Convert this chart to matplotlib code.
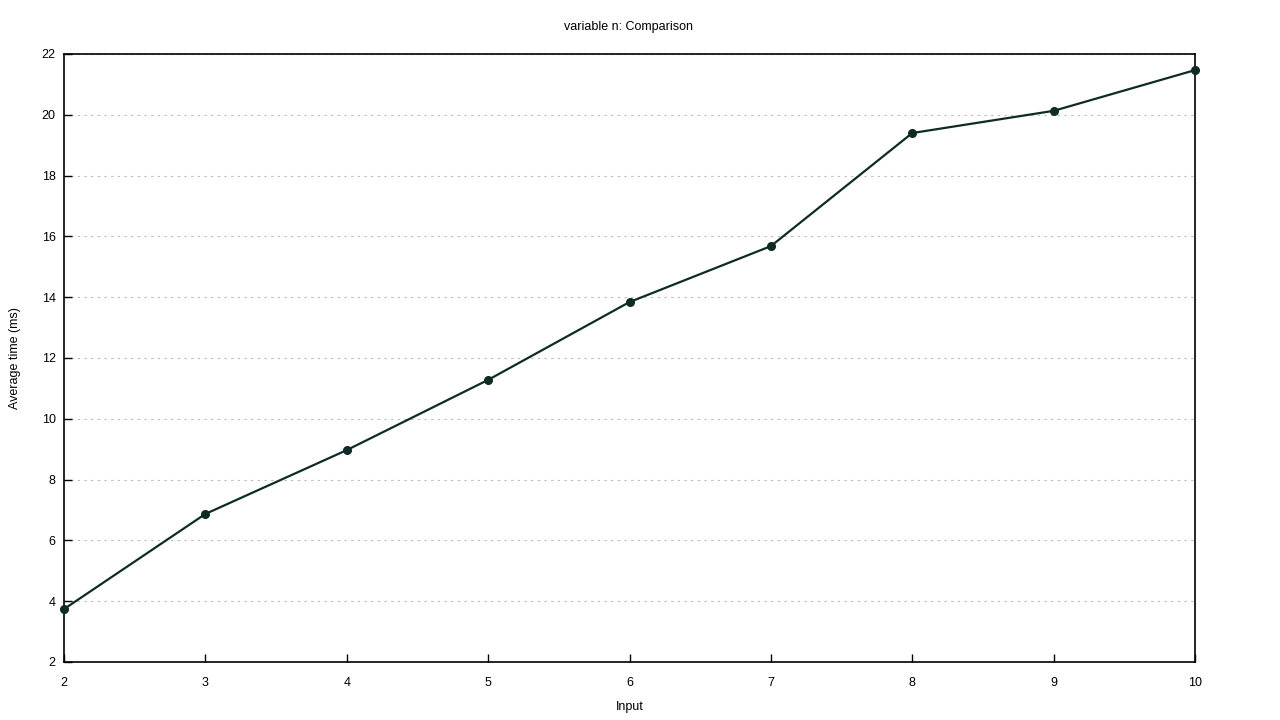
import matplotlib
matplotlib.use("Agg")
import matplotlib.pyplot as plt

x_values = [2, 3, 4, 5, 6, 7, 8, 9, 10]
avg_time = [3.74, 6.87, 8.97, 11.28, 13.84, 15.68, 19.40, 20.13, 21.47]
y_ticks = [2, 4, 6, 8, 10, 12, 14, 16, 18, 20, 22]

plt.rcParams['font.family'] = ['Liberation Sans', 'DejaVu Sans']
plt.rcParams['font.size'] = 9

fig = plt.figure(figsize=(12.8, 7.2), dpi=100)
ax = fig.add_axes([64/1280, 1-662/720, (1195-64)/1280, (662-54)/720])

ax.plot(x_values, avg_time, color='#0f2b26', lw=1.6, marker='o', ms=5.5,
        clip_on=False, zorder=3)

ax.set_xlim(2, 10)
ax.set_ylim(2, 22)
ax.set_xticks(x_values)
ax.set_yticks(y_ticks)
ax.tick_params(direction='in', length=6, width=1, colors='black', labelsize=9)
ax.tick_params(axis='x', pad=11)
ax.tick_params(axis='y', pad=6)
ax.yaxis.grid(True, linestyle=(0, (2, 4)), color='#bbbbbb', lw=0.8)
ax.set_axisbelow(True)
for s in ax.spines.values():
    s.set_linewidth(1.2)
    s.set_color('black')

fig.text(628/1280, 1-27/720, 'variable n: Comparison', ha='center', va='center', fontsize=9)
fig.text(630/1280, 1-707/720, 'Input', ha='center', va='center', fontsize=9)
fig.text(15/1280, 1-358/720, 'Average time (ms)', ha='center', va='center', rotation=90, fontsize=9)

fig.savefig('out.png', dpi=100)
